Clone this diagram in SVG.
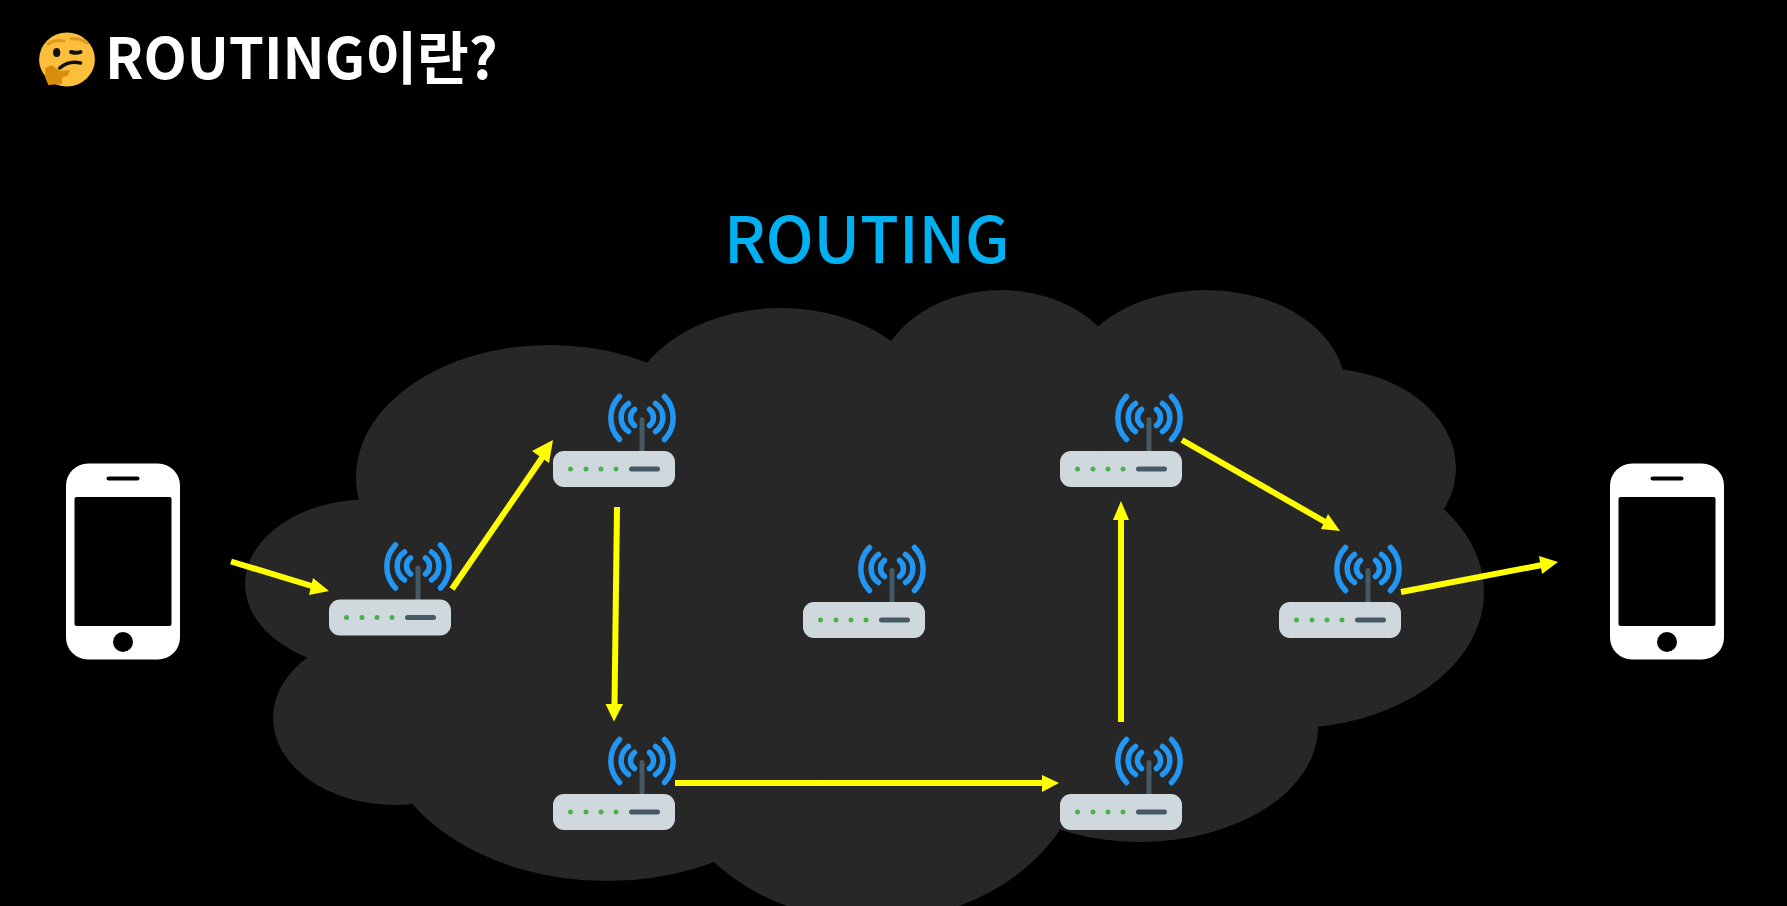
<svg xmlns="http://www.w3.org/2000/svg" width="1787" height="906" viewBox="0 0 1787 906">
<defs>
<style>
.cl{fill:#272727}
.ar{stroke:#ffff00;stroke-width:6;fill:none}
.hd{fill:#ffff00}
.wave{fill:none;stroke:#2196f3;stroke-width:5.500;stroke-linecap:round}
.t{font-family:"Noto Sans CJK KR","Noto Sans",sans-serif}
</style>
<g id="r">
<rect x="86.500" y="-34" width="5" height="36" rx="2.500" fill="#455a64"/>
<rect x="0" y="0" width="122" height="36" rx="11" fill="#cfd8dc"/>
<g fill="#4caf50"><circle cx="17.500" cy="18" r="2.500"/><circle cx="33" cy="18" r="2.500"/><circle cx="48" cy="18" r="2.500"/><circle cx="63" cy="18" r="2.500"/></g>
<rect x="76" y="15.500" width="31" height="5" rx="2.500" fill="#455a64"/>
<g class="wave">
<path d="M81.500-41.500A10 10 0 0 0 81.500-25.500"/><path d="M96.500-41.500A10 10 0 0 1 96.500-25.500"/>
<path d="M75.500-47.500A17 17 0 0 0 75.500-19.500"/><path d="M102.500-47.500A17 17 0 0 1 102.500-19.500"/>
<path d="M66.500-54.500A31 31 0 0 0 66.500-11.500"/><path d="M111.500-54.500A31 31 0 0 1 111.500-11.500"/>
</g>
</g>
<g id="phone">
<rect x="0" y="0" width="114" height="196" rx="22" fill="#fff"/>
<rect x="8.500" y="33.500" width="97" height="129" rx="2" fill="#000"/>
<rect x="40.500" y="13" width="33" height="4" rx="2" fill="#000"/>
<circle cx="57" cy="178.500" r="10" fill="#000"/>
</g>
</defs>
<rect width="1787" height="906" fill="#000"/>
<g id="emoji" transform="translate(-.2 0) scale(1.034 1)">
<circle cx="65" cy="59.500" r="27" fill="#fbbf3c"/>
<path d="M47 44Q53 39 62 41M69 39Q78 38 84 43" stroke="#e09a20" stroke-width="3" fill="none" stroke-linecap="round"/>
<ellipse cx="55" cy="52.500" rx="3.500" ry="4.500" fill="#111"/>
<path d="M69 52Q74 53.500 78 52" stroke="#111" stroke-width="4" fill="none" stroke-linecap="round"/>
<path d="M58 68Q67 60 78 63" stroke="#111" stroke-width="3.500" fill="none" stroke-linecap="round"/>
<path d="M44 68L50 65L58 71L68 70L66 75L60 78L60 84L47 85L44 78Z" fill="#d98e0a"/>
</g>
<text id="title" class="t" x="105" y="79" font-size="56.300" font-weight="700" fill="#fff">ROUTING이란?</text>
<text id="heading" class="t" x="724" y="263" font-size="63.500" font-weight="500" fill="#00b0f0">ROUTING</text>
<g id="cloud" class="cl">
<ellipse cx="550" cy="477" rx="194" ry="132"/>
<ellipse cx="781" cy="422" rx="157" ry="114"/>
<ellipse cx="1001" cy="388" rx="125" ry="98"/>
<ellipse cx="1206" cy="388" rx="139" ry="98"/>
<ellipse cx="1320" cy="468" rx="136" ry="100"/>
<ellipse cx="1290" cy="592" rx="194" ry="136"/>
<ellipse cx="1140" cy="727" rx="178" ry="115"/>
<ellipse cx="873" cy="741" rx="215" ry="180"/>
<ellipse cx="607" cy="720" rx="228" ry="161"/>
<ellipse cx="395" cy="718" rx="122" ry="87"/>
<ellipse cx="370" cy="584" rx="125" ry="85"/>
<rect x="500" y="450" width="800" height="310"/>
</g>
<g id="phone-left"><use href="#phone" x="66" y="463.500"/></g>
<g id="phone-right"><use href="#phone" x="1610" y="463.500"/></g>
<g id="router-1"><use href="#r" x="329" y="599.500"/></g>
<g id="router-2"><use href="#r" x="553" y="451"/></g>
<g id="router-3"><use href="#r" x="553" y="794"/></g>
<g id="router-4"><use href="#r" x="803" y="602"/></g>
<g id="router-5"><use href="#r" x="1060" y="794"/></g>
<g id="router-6"><use href="#r" x="1060" y="451"/></g>
<g id="router-7"><use href="#r" x="1279" y="602"/></g>
<g id="connectors">
<path class="ar" d="M231 561.500L315 587"/><path class="hd" d="M329 591L309 595L313 578Z"/>
<path class="ar" d="M452 589L544 455"/><path class="hd" d="M553 440L549 463L532 451Z"/>
<path class="ar" d="M617 507L614.500 706"/><path class="hd" d="M614 721.500L605.500 704L623 704Z"/>
<path class="ar" d="M675 783L1045 783"/><path class="hd" d="M1059 783L1042 775L1042 792Z"/>
<path class="ar" d="M1121 722L1121 518"/><path class="hd" d="M1121 501L1113 520L1129 520Z"/>
<path class="ar" d="M1182 440L1327 523"/><path class="hd" d="M1340 531L1321 529L1328 514Z"/>
<path class="ar" d="M1401 592L1542 565"/><path class="hd" d="M1558 562L1539 556L1542 574Z"/>
</g>
</svg>
